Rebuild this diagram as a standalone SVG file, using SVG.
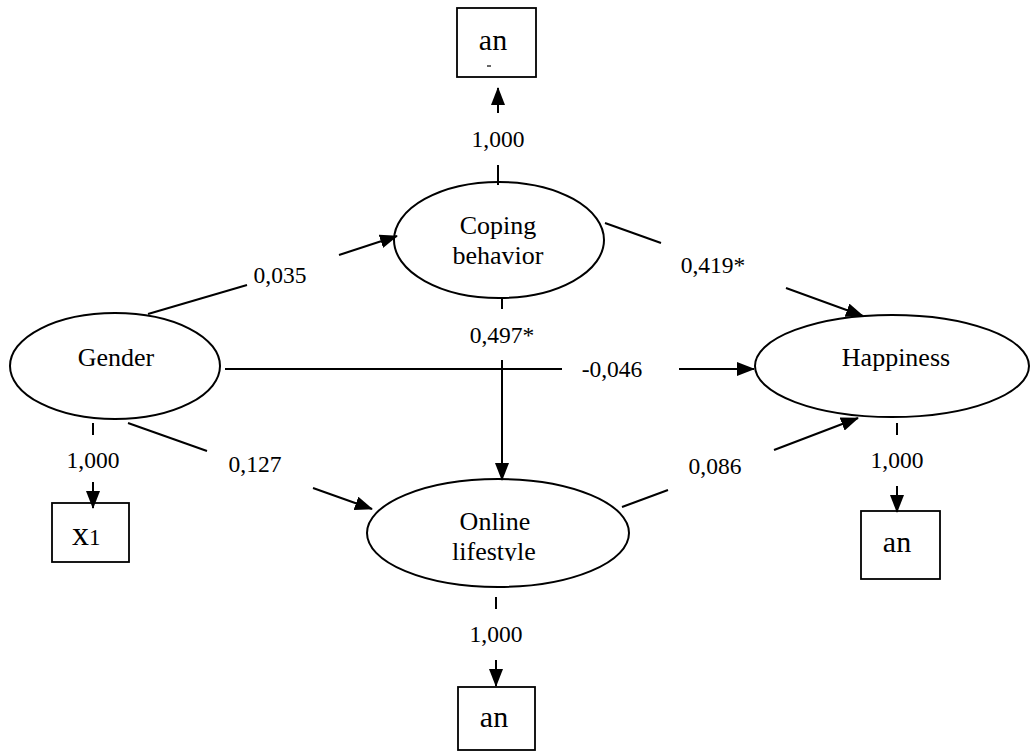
<svg xmlns="http://www.w3.org/2000/svg" width="1033" height="751" viewBox="0 0 1033 751">
<style>
.n{fill:#fff;stroke:#000;stroke-width:2}
.b{fill:#fff;stroke:#000;stroke-width:1.8}
.t{font-family:"Liberation Serif","Times New Roman",serif;font-size:26px;fill:#000;text-anchor:middle}
.l{font-family:"Liberation Serif","Times New Roman",serif;font-size:23.5px;fill:#000;text-anchor:middle}
.a{font-family:"Liberation Serif","Times New Roman",serif;font-size:30px;fill:#000;text-anchor:middle}
.c line{stroke:#000;stroke-width:2;fill:none}
</style>
<defs>
<marker id="ah" markerUnits="userSpaceOnUse" markerWidth="18" markerHeight="14" refX="17" refY="7" orient="auto">
<path d="M0,0 L18,7 L0,14 z" fill="#000"/>
</marker>
<clipPath id="olclip"><rect x="360" y="470" width="280" height="91"/></clipPath>
</defs>
<rect width="1033" height="751" fill="#fff"/>
<g id="gender"><ellipse class="n" cx="115" cy="366" rx="105" ry="53"/><text class="t" x="116" y="366">Gender</text></g>
<g id="coping"><ellipse class="n" cx="499" cy="240" rx="105" ry="58"/><text class="t" x="498" y="234">Coping</text><text class="t" x="498" y="264">behavior</text></g>
<g id="happiness"><ellipse class="n" cx="892" cy="366" rx="137" ry="51"/><text class="t" x="896" y="366">Happiness</text></g>
<g id="online"><ellipse class="n" cx="498" cy="533" rx="131" ry="54"/><g clip-path="url(#olclip)"><text class="t" x="495" y="530">Online</text><text class="t" x="494" y="560">lifestyle</text></g></g>
<g id="box-top"><rect class="b" x="457" y="8" width="79" height="69"/><text class="a" x="493" y="50">an</text><line x1="487" y1="66" x2="491" y2="66" stroke="#000" stroke-width="1.2"/></g>
<g id="box-x1"><rect class="b" x="52" y="503" width="77" height="59"/><text x="72" y="545" font-family="Liberation Serif,'Times New Roman',serif" font-size="34">x<tspan font-size="23">1</tspan></text></g>
<g id="box-happy"><rect class="b" x="861" y="511" width="79" height="68"/><text class="a" x="897" y="552">an</text></g>
<g id="box-bottom"><rect class="b" x="458" y="687" width="77" height="63"/><text class="a" x="494" y="727">an</text></g>
<g id="connectors" class="c">
<line x1="498" y1="165" x2="498" y2="185"/>
<line x1="498" y1="113" x2="498" y2="88" marker-end="url(#ah)"/>
<line x1="93" y1="423" x2="93" y2="435"/>
<line x1="93" y1="482" x2="93" y2="508" marker-end="url(#ah)"/>
<line x1="897" y1="423" x2="897" y2="435"/>
<line x1="897" y1="486" x2="897" y2="512" marker-end="url(#ah)"/>
<line x1="496" y1="597" x2="496" y2="609"/>
<line x1="496" y1="660" x2="496" y2="686" marker-end="url(#ah)"/>
<line x1="148" y1="314" x2="247" y2="285"/>
<line x1="339" y1="255" x2="397" y2="236" marker-end="url(#ah)"/>
<line x1="605" y1="223" x2="661" y2="243"/>
<line x1="786" y1="288" x2="863" y2="316" marker-end="url(#ah)"/>
<line x1="128" y1="423" x2="207" y2="451"/>
<line x1="313" y1="488" x2="372" y2="509" marker-end="url(#ah)"/>
<line x1="622" y1="507" x2="668" y2="490"/>
<line x1="774" y1="450" x2="858" y2="418" marker-end="url(#ah)"/>
<line x1="502" y1="297" x2="502" y2="309"/>
<line x1="502" y1="360" x2="502" y2="480" marker-end="url(#ah)"/>
<line x1="225" y1="369" x2="562" y2="369"/>
<line x1="679" y1="369" x2="754" y2="369" marker-end="url(#ah)"/>
</g>
<g id="labels">
<text class="l" x="498" y="147">1,000</text>
<text class="l" x="93" y="468">1,000</text>
<text class="l" x="897" y="468">1,000</text>
<text class="l" x="496" y="642">1,000</text>
<text class="l" x="280" y="283">0,035</text>
<text class="l" x="713" y="273">0,419*</text>
<text class="l" x="502" y="343">0,497*</text>
<text class="l" x="612" y="377">-0,046</text>
<text class="l" x="255" y="472">0,127</text>
<text class="l" x="715" y="474">0,086</text>
</g>
</svg>
